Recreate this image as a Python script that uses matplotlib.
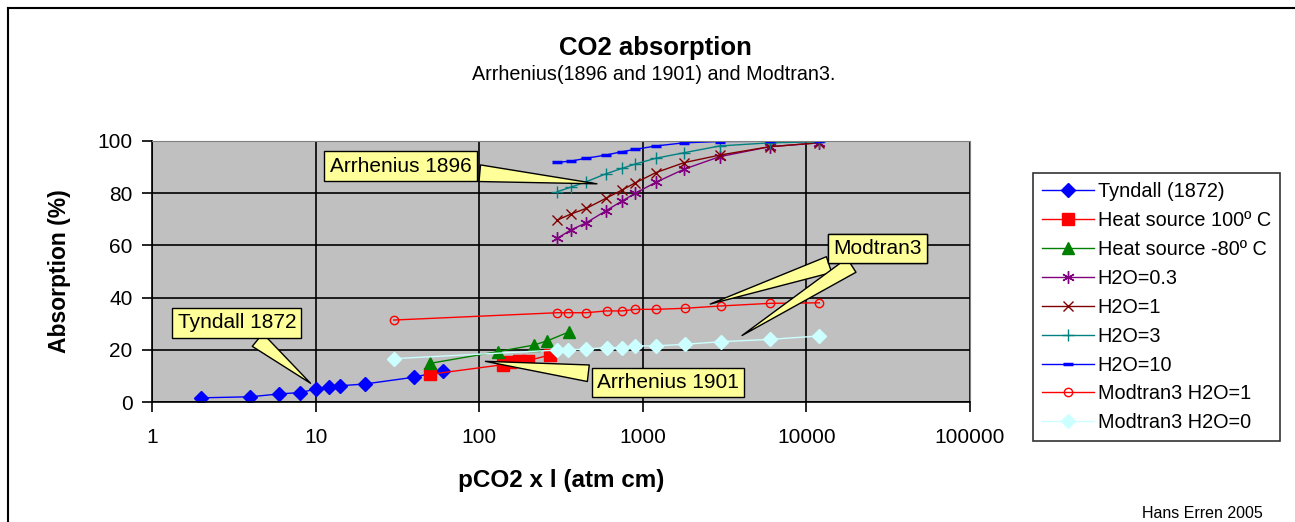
import matplotlib
matplotlib.use("Agg")
import matplotlib.pyplot as plt
from matplotlib.lines import Line2D

plt.rcParams["font.family"] = ["Liberation Sans", "DejaVu Sans"]

# --- data ---
tyndall_x = [2, 4, 6, 8, 10, 12, 14, 20, 40, 60]
tyndall_y = [1.6, 2.0, 3.1, 3.6, 4.9, 5.6, 6.2, 6.9, 9.5, 11.9]

hot_x = [50, 140, 155, 175, 200, 270]
hot_y = [10.6, 14.3, 15.2, 15.6, 15.9, 18.0]

cold_x = [50, 130, 215, 260, 355]
cold_y = [14.8, 19.3, 21.8, 23.4, 26.9]

arr_x = [300, 363, 452, 593, 746, 901, 1203, 1787, 2950, 5950, 11900]
h2o_03 = [62.7, 65.9, 68.7, 73.2, 77.0, 80.0, 84.2, 89.2, 94.0, 97.8, 99.3]
h2o_1 = [69.7, 72.0, 74.2, 78.0, 81.2, 84.0, 87.9, 91.7, 94.6, 97.8, 99.3]
h2o_3 = [80.6, 82.3, 84.4, 87.4, 89.5, 91.2, 93.4, 95.5, 98.1, 99.3, 99.7]
h2o_10 = [91.8, 92.3, 93.4, 94.6, 95.9, 96.8, 98.1, 99.3, 99.8, 99.9, 100.0]

mod_x = [30, 300, 350, 450, 600, 750, 900, 1200, 1800, 3000, 6000, 12000]
mod_h2o1 = [31.4, 34.2, 34.2, 34.2, 34.9, 34.9, 35.5, 35.5, 35.9, 36.8, 37.8, 38.0]
mod_h2o0 = [16.6, 19.9, 19.9, 20.3, 20.8, 20.8, 21.5, 21.5, 22.1, 23.1, 24.0, 25.3]

x_ticks = [1, 10, 100, 1000, 10000, 100000]
y_ticks = [0, 20, 40, 60, 80, 100]

fig = plt.figure(figsize=(12.95, 5.22), dpi=100)
ax = fig.add_axes([152 / 1295, 1 - 402 / 522, 818 / 1295, 261 / 522])
ax.set_facecolor("#c0c0c0")

ax.plot(tyndall_x, tyndall_y, color="#0000ff", lw=1, marker="D", ms=7, label="Tyndall (1872)")
ax.plot(hot_x, hot_y, color="#ff0000", lw=1, marker="s", ms=8, label="Heat source 100º C")
ax.plot(cold_x, cold_y, color="#008000", lw=1, marker="^", ms=9, label="Heat source -80º C")
ax.plot(arr_x, h2o_03, color="#800080", lw=1, marker=(6, 2, 0), ms=9, label="H2O=0.3")
ax.plot(arr_x, h2o_1, color="#800000", lw=1, marker="x", ms=7, label="H2O=1")
ax.plot(arr_x, h2o_3, color="#008080", lw=1, marker="+", ms=9, label="H2O=3")
ax.plot(arr_x, h2o_10, color="#0000ff", lw=1, marker="_", ms=7, mew=2.5, label="H2O=10")
ax.plot(mod_x, mod_h2o1, color="#ff0000", lw=1, marker="o", ms=6, mfc="none", label="Modtran3 H2O=1")
ax.plot(mod_x, mod_h2o0, color="#ccffff", lw=1, marker="D", ms=7, label="Modtran3 H2O=0")

ax.set_xscale("log")
ax.set_xlim(1, 100000)
ax.set_ylim(0, 100)
ax.set_xticks(x_ticks)
ax.set_xticklabels([str(v) for v in x_ticks])
ax.xaxis.set_minor_locator(matplotlib.ticker.NullLocator())
ax.set_yticks(y_ticks)
ax.grid(True, color="black", lw=1.2)
ax.set_axisbelow(True)
ax.tick_params(axis="both", direction="out", length=7, width=1.2, labelsize=15, color="black")
ax.tick_params(axis="x", pad=12)
ax.tick_params(axis="y", pad=7)
for side in ["top", "right"]:
    ax.spines[side].set_color("#808080")
for side in ["left", "bottom"]:
    ax.spines[side].set_linewidth(1.2)

ax.set_xlabel("pCO2 x l (atm cm)", fontsize=17.5, fontweight="bold")
ax.set_ylabel("Absorption (%)", fontsize=16.5, fontweight="bold")
ax.xaxis.set_label_coords(0.5, (402 - 481) / 261)
ax.yaxis.set_label_coords((60 - 152) / 818, 0.5)
ax.xaxis.label.set_va("center")
ax.yaxis.label.set_va("center")

fig.text(655 / 1295, 1 - 48 / 522, "CO2 absorption", ha="center", va="center",
         fontsize=18.5, fontweight="bold")
fig.text(654 / 1295, 1 - 75 / 522, "Arrhenius(1896 and 1901) and Modtran3.",
         ha="center", va="center", fontsize=14.2)
fig.text(1263 / 1295, 1 - 513 / 522, "Hans Erren 2005", ha="right", va="center", fontsize=11.5)

# callouts
box = dict(boxstyle="square,pad=0.25", fc="#ffff99", ec="black", lw=1)
wedge = dict(arrowstyle="wedge,tail_width=0.8,shrink_factor=0.5", fc="#ffff99", ec="black", lw=1)
ax.annotate("Tyndall 1872", xy=(9.6, 6.5), xytext=(3.3, 30.3), ha="center", va="center",
            fontsize=15, bbox=box, arrowprops=wedge)
ax.annotate("Arrhenius 1896", xy=(545, 83.5), xytext=(33, 90.4), ha="center", va="center",
            fontsize=15, bbox=box, arrowprops=wedge)
ax.annotate("Arrhenius 1901", xy=(105, 15.7), xytext=(1420, 7.5), ha="center", va="center",
            fontsize=15, bbox=box, arrowprops=wedge)
ax.annotate("Modtran3", xy=(2490, 37.2), xytext=(27200, 58.8), ha="center", va="center",
            fontsize=15, bbox=box, arrowprops=wedge)
ax.annotate("Modtran3", xy=(3910, 24.9), xytext=(27200, 58.8), ha="center", va="center",
            fontsize=15, bbox=box, arrowprops=wedge)

leg = fig.legend(loc="upper left", bbox_to_anchor=(1033 / 1295, 1 - 173 / 522),
                 borderaxespad=0, fontsize=14.3, frameon=True, fancybox=False,
                 edgecolor="black", handlelength=2.6, labelspacing=0.5, borderpad=0.45,
                 handletextpad=0.2)
leg.get_frame().set_linewidth(1.2)

# outer chart border (left and top visible)
fig.add_artist(Line2D([8 / 1295, 8 / 1295], [0, 1 - 8 / 522], color="black", lw=1.5))
fig.add_artist(Line2D([8 / 1295, 1], [1 - 8 / 522, 1 - 8 / 522], color="black", lw=1.5))

fig.savefig("out.png", dpi=100)
